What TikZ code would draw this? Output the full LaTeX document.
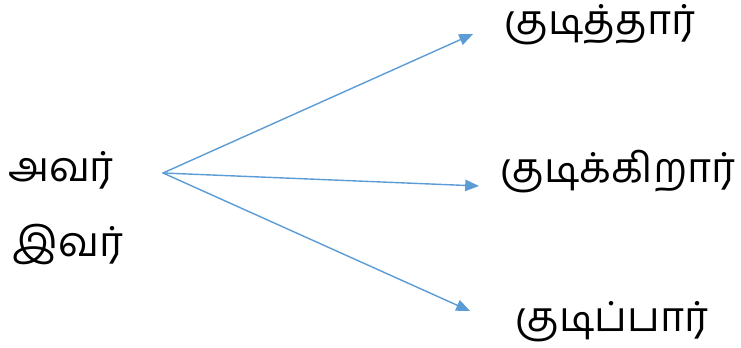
\documentclass[tikz,border=0pt]{standalone}
\usepackage{fontspec}
\newfontfamily\tamilfont[Script=Tamil]{Hind Madurai}
\usetikzlibrary{arrows}
\definecolor{arrblue}{rgb}{0.36,0.61,0.84}

\begin{document}
\begin{tikzpicture}[line cap=round,line join=round,>=triangle 45,x=0.02cm,y=-0.02cm]
\tikzset{word/.style={font=\tamilfont\fontsize{23.5}{28}\selectfont,inner sep=0pt}}
\useasboundingbox (0,0) rectangle (741,348);
\node[word] (avar) at (61,170) {அவர்};
\node[word] (ivar) at (68,245) {இவர்};
\node[word] (past) at (600,25) {குடித்தார்};
\node[word] (pres) at (618,172) {குடிக்கிறார்};
\node[word] (fut) at (612,322) {குடிப்பார்};
\coordinate (src) at (163,173);
\coordinate (e1) at (473,34);
\coordinate (e2) at (479,186);
\coordinate (e3) at (470,311);
\draw [->,color=arrblue,line width=0.8pt] (src) -- (e1);
\draw [->,color=arrblue,line width=0.8pt] (src) -- (e2);
\draw [->,color=arrblue,line width=0.8pt] (src) -- (e3);
\end{tikzpicture}
\end{document}
